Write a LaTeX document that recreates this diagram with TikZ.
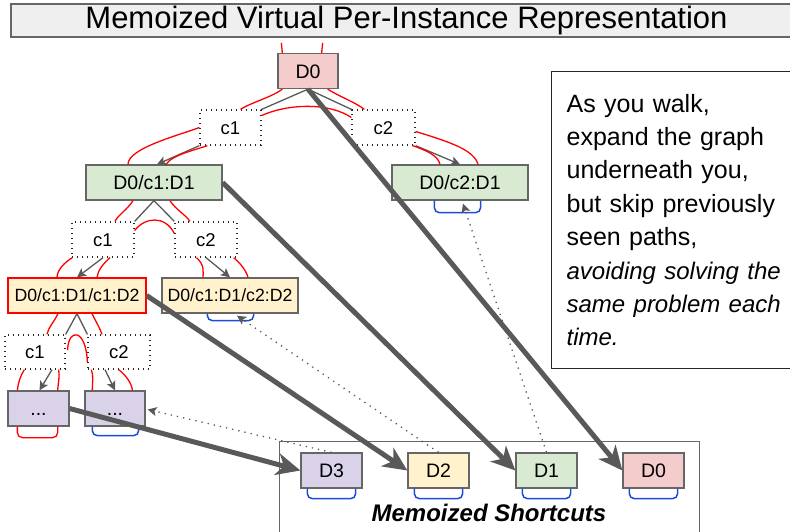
\documentclass[tikz,border=0pt]{standalone}
\usepackage{fontspec}
\setmainfont{Liberation Sans}
\usetikzlibrary{arrows.meta,calc}

\definecolor{gline}{HTML}{595959}
\definecolor{gframe}{HTML}{666666}
\definecolor{titlefill}{HTML}{EFEFEF}
\definecolor{dzero}{HTML}{F4CCCC}
\definecolor{done}{HTML}{D9EAD3}
\definecolor{dtwo}{HTML}{FFF2CC}
\definecolor{dthree}{HTML}{D9D2E9}
\definecolor{walkred}{HTML}{FF0000}
\definecolor{seenblue}{HTML}{1C4BDB}

\tikzset{
  dbox/.style={draw=gframe, line width=1.3pt, inner sep=0pt, minimum height=35pt,
    text height=14pt, text depth=0pt, font=\fontsize{19.5}{22}\selectfont},
  longlabel/.style={text height=12.7pt, font=\fontsize{17.7}{20}\selectfont},
  cbox/.style={draw=black!85, line width=1.3pt, dash pattern=on 1.3pt off 3.7pt, fill=white,
    inner sep=0pt, minimum height=35pt, text height=13.2pt, text depth=0pt,
    font=\fontsize{18.5}{21}\selectfont},
  titlebox/.style={draw=gframe, fill=titlefill, line width=1.3pt, inner sep=0pt,
    minimum width=791pt, minimum height=33pt, font=\fontsize{31}{34}\selectfont},
  tree/.style={draw=gline, line width=1.3pt},
  choose/.style={tree, -{Stealth[length=9pt,width=9pt,inset=2pt]}},
  walk/.style={draw=walkred, line width=1.3pt},
  seen/.style={draw=seenblue, line width=1.5pt, rounded corners=5pt},
  back/.style={draw=gline, line width=1.3pt, dash pattern=on 1.3pt off 5pt,
    -{Stealth[length=9pt,width=9pt,inset=2pt]}},
  jump/.style={draw=gline, line width=5pt, -{Stealth[length=24pt,width=22pt,inset=7pt]}},
}

\begin{document}
\begin{tikzpicture}[x=1pt,y=-1pt]
\useasboundingbox (0,0) rectangle (790,531);
\clip (0,0) rectangle (790,531);

\node[titlebox] (title) at (406.5,20.5) {Memoized Virtual Per-Instance Representation};

% the tree
\node[dbox, fill=dzero, minimum width=60pt] (D0) at (308,71) {D0};
\node[cbox, minimum width=61pt] (c1a) at (230.5,127.5) {c1};
\node[cbox, minimum width=63pt] (c2a) at (383.5,127.5) {c2};
\node[dbox, fill=done, minimum width=136pt] (D1a) at (154,182.5) {D0/c1:D1};
\node[dbox, fill=done, minimum width=136pt] (D1b) at (460,182.5) {D0/c2:D1};
\node[cbox, minimum width=62pt] (c1b) at (103,239.5) {c1};
\node[cbox, minimum width=62pt] (c2b) at (206,239.5) {c2};
\node[dbox, longlabel, fill=dtwo, draw=walkred, minimum width=138pt] (D2a) at (77,295.5) {D0/c1:D1/c1:D2};
\node[dbox, longlabel, fill=dtwo, minimum width=136pt] (D2b) at (230,295.5) {D0/c1:D1/c2:D2};
\node[cbox, minimum width=60pt, minimum height=34pt] (c1c) at (35,352) {c1};
\node[cbox, minimum width=62pt, minimum height=34pt] (c2c) at (119,352) {c2};
\node[dbox, fill=dthree, minimum width=61pt] (D3a) at (38.5,408.5) {...};
\node[dbox, fill=dthree, minimum width=60pt] (D3b) at (115,408.5) {...};

% memo table
\node[draw=gframe, line width=1.3pt, inner sep=0pt, minimum width=420pt, minimum height=110pt,
  anchor=north west] (memo) at (279,441) {};
\node[font=\fontsize{24}{28}\selectfont\bfseries\itshape] (memolabel) at (489,513) {Memoized Shortcuts};
\foreach \k/\x/\c in {3/331.5/dthree, 2/438.5/dtwo, 1/546.5/done, 0/653.5/dzero}
  \node[dbox, fill=\c, minimum width=61pt] (S\k) at (\x,470.5) {D\k};

\node[draw=black!85, line width=1.3pt, anchor=north west, inner ysep=0pt, inner xsep=15pt,
  minimum width=260pt, minimum height=297pt, text width=230pt, align=left,
  font=\fontsize{25}{33.4}\selectfont] (note) at (551,71)
  {As you walk,\\ expand the graph\\ underneath you,\\ but skip previously\\ seen paths,\\
   \fontsize{24}{33.4}\selectfont\textit{avoiding solving the}\\ \textit{same problem each}\\ \textit{time.}};

% choices
\draw[tree] (D0.south) -- (c1a.north east);
\draw[tree] (D0.south) -- (c2a.north west);
\draw[choose] (c1a.south west) -- ($(D1a.north)+(3,0)$);
\draw[choose] (c2a.south east) -- (D1b.north);
\draw[tree] (D1a.south) -- (c1b.north east);
\draw[tree] (D1a.south) -- (c2b.north west);
\draw[choose] (c1b.south) -- (D2a.north);
\draw[choose] (c2b.south) -- (D2b.north);
\draw[tree] (D2a.south) -- (c1c.north east);
\draw[tree] (D2a.south) -- (c2c.north west);
\draw[choose] ($(c1c.south)+(17,0)$) -- ($(D3a.north)+(1,0)$);
\draw[choose] ($(c2c.south)+(-14,0)$) -- (D3b.north);

% the walk
\draw[walk] ($(D0.north west)+(4,-10)$) -- ($(D0.north west)+(5,0)$);
\draw[walk] ($(D0.north east)+(-16,-10)$) -- ($(D0.north east)+(-17,0)$);
\draw[walk] ($(D0.south west)+(5,0)$) .. controls (272,97) and (250,103) .. ($(c1a.north)+(10,0)$);
\draw[walk] ($(D0.south east)+(-11,0)$) .. controls (340,97) and (355,102) .. ($(c2a.north west)+(13,0)$);
\draw[walk] ($(c1a.east)+(0,-12)$) .. controls (290,103) and (330,103) .. ($(c2a.west)+(0,-10)$);
\draw[walk] (c1a.west) .. controls (180,135) and (128,148) .. ($(D1a.north)+(-26,0)$);
\draw[walk] ($(c1a.south west)+(8,0)$) .. controls (195,150) and (172,155) .. ($(D1a.north)+(12,0)$);
\draw[walk] ($(c2a.south east)+(-3,0)$) .. controls (425,150) and (438,155) .. ($(D1b.north)+(-20,0)$);
\draw[walk] ($(c2a.east)+(0,4)$) .. controls (450,142) and (474,150) .. ($(D1b.north)+(18,0)$);
\draw[walk] ($(D1a.south)+(-21,0)$) .. controls (127,210) and (118,215) .. ($(c1b.north)+(12,0)$);
\draw[walk] ($(D1a.south)+(16,0)$) .. controls (176,210) and (186,215) .. ($(c2b.north)+(-16,0)$);
\draw[walk] ($(c1b.east)+(0,-9)$) .. controls (145,217) and (165,215) .. ($(c2b.west)+(0,-6)$);
\draw[walk] ($(c1b.south west)+(1,0)$) .. controls (65,262) and (57,270) .. ($(D2a.north)+(-20,0)$);
\draw[walk] ($(c1b.south)+(7,0)$) .. controls (103,264) and (98,270) .. ($(D2a.north)+(20,0)$);
\draw[walk] ($(c2b.south west)+(22,0)$) .. controls (205,265) and (203,272) .. ($(D2b.north)+(-27,0)$);
\draw[walk] ($(c2b.south east)+(-4,0)$) .. controls (240,263) and (246,270) .. ($(D2b.north)+(18,0)$);
\draw[walk] ($(D2a.south)+(-19,0)$) .. controls (54,322) and (48,328) .. ($(c1c.north)+(12,0)$);
\draw[walk] ($(D2a.south)+(15,0)$) .. controls (96,322) and (100,328) .. ($(c2c.north)+(-17,0)$);
\draw[walk] ($(c1c.east)+(2,-2)$) .. controls (68,328) and (86,328) .. ($(c2c.west)+(0,10)$);
\draw[walk] ($(c1c.south west)+(20,0)$) .. controls (20,376) and (18,384) .. ($(D3a.north west)+(10,0)$);
\draw[walk] ($(c1c.south east)+(-7,0)$) .. controls (60,376) and (58,384) .. ($(D3a.north east)+(-12,0)$);
\draw[walk] ($(c2c.south west)+(4,0)$) .. controls (94,376) and (92,384) .. ($(D3b.north west)+(8,0)$);
\draw[walk] ($(c2c.south east)+(-32,0)$) .. controls (126,375) and (132,384) .. ($(D3b.north west)+(48,0)$);
\draw[walk, rounded corners=5pt] ($(D3a.south west)+(10,0)$) -- ++(0,11) -| ($(D3a.south east)+(-12,0)$);

% seen before
\draw[seen] ($(D1b.south west)+(43,0)$) -- ++(0,12) -| ($(D1b.south east)+(-48,0)$);
\draw[seen] ($(D2b.south west)+(46,0)$) -- ++(0,7) -| ($(D2b.south east)+(-45,0)$);
\draw[seen] ($(D3b.south west)+(8,0)$) -- ++(0,9) -| ($(D3b.south east)+(-7,0)$);
\foreach \k in {0,...,3}
  \draw[seen] ($(S\k.south west)+(7,0)$) -- ++(0,10) -| ($(S\k.south east)+(-7,0)$);

\draw[back] (S1.north) -- ($(D1b.south)+(3,3)$);
\draw[back] (S2.north) -- ($(D2b.south)+(7,2)$);
\draw[back] (S3.north) -- ($(D3b.east)+(2,1)$);

% shortcuts
\draw[jump] (D0.south) -- (S0.west);
\draw[jump] (D1a.east) -- (S1.west);
\draw[jump] (D2a.east) -- (S2.west);
\draw[jump] (D3a.east) -- (S3.west);
\end{tikzpicture}
\end{document}
